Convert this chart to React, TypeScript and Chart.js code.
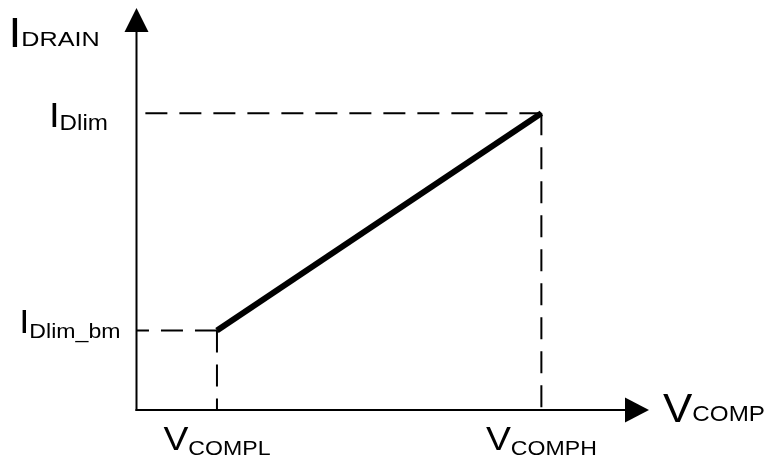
import React, { useEffect, useRef } from "react";
import { Chart, registerables } from "chart.js";

Chart.register(...registerables);

// ---- data ----
const X_RANGE = [0, 100];
const Y_RANGE = [0, 100];
const X_MARKS = [15.7, 79.0]; // V_COMPL, V_COMPH
const Y_MARKS = [19.8, 73.8]; // I_Dlim_bm, I_Dlim
const X_TICK_MAIN = ["V", "V"];
const X_TICK_SUB = ["COMPL", "COMPH"];
const Y_TICK_MAIN = ["I", "I"];
const Y_TICK_SUB = ["Dlim_bm", "Dlim"];
const X_TITLE = ["V", "COMP"];
const Y_TITLE = ["I", "DRAIN"];

const FONT = '"Liberation Sans", Arial, sans-serif';
const SX = 1.1;

function textW(ctx: CanvasRenderingContext2D, s: string, size: number, sx: number) {
  ctx.font = `${size}px ${FONT}`;
  return ctx.measureText(s).width * sx;
}
function drawT(ctx: CanvasRenderingContext2D, s: string, size: number, x: number, y: number, sx: number) {
  ctx.save();
  ctx.font = `${size}px ${FONT}`;
  ctx.textAlign = "left";
  ctx.textBaseline = "alphabetic";
  ctx.fillStyle = "#000";
  ctx.translate(x, y);
  ctx.scale(sx, 1);
  ctx.fillText(s, 0, 0);
  ctx.restore();
}
function drawPair(
  ctx: CanvasRenderingContext2D,
  main: string, mSize: number, sub: string, sSize: number,
  x: number, yMain: number, ySub: number, align: "left" | "right" | "center",
  subSx: number = SX
) {
  const w1 = textW(ctx, main, mSize, SX);
  const w2 = textW(ctx, sub, sSize, subSx);
  const tot = w1 + w2;
  const x0 = align === "left" ? x : align === "right" ? x - tot : x - tot / 2;
  drawT(ctx, main, mSize, x0, yMain, SX);
  drawT(ctx, sub, sSize, x0 + w1, ySub, subSx);
}

const diagramPlugin = {
  id: "diagram",
  afterDatasetsDraw(chart: any) {
    const ctx: CanvasRenderingContext2D = chart.ctx;
    const { left, right, top, bottom } = chart.chartArea;
    const xs = chart.scales.x;
    const ys = chart.scales.y;
    ctx.save();
    ctx.strokeStyle = "#000";
    ctx.fillStyle = "#000";
    ctx.lineWidth = 2;
    ctx.setLineDash([]);
    // y axis
    const ah = 24;
    ctx.beginPath();
    ctx.moveTo(left, bottom + 1);
    ctx.lineTo(left, top + ah);
    ctx.stroke();
    ctx.beginPath();
    ctx.moveTo(left, top);
    ctx.lineTo(left - 12, top + ah);
    ctx.lineTo(left + 12, top + ah);
    ctx.closePath();
    ctx.fill();
    // x axis
    ctx.beginPath();
    ctx.moveTo(left - 1, bottom);
    ctx.lineTo(right - ah, bottom);
    ctx.stroke();
    ctx.beginPath();
    ctx.moveTo(right, bottom);
    ctx.lineTo(right - ah, bottom - 12.5);
    ctx.lineTo(right - ah, bottom + 12.5);
    ctx.closePath();
    ctx.fill();

    // axis titles
    drawPair(ctx, Y_TITLE[0], 42, Y_TITLE[1], 21, left - 128, top + 38.5, top + 38, "left", 1.2);
    drawPair(ctx, X_TITLE[0], 40, X_TITLE[1], 22, right + 14, bottom + 12, bottom + 11, "left");

    // y tick labels
    const yCfg = [
      { dx: -16, mb: 2.3, sb: 7.3, ms: 33, ss: 21 },
      { dx: -28.5, mb: 13.4, sb: 17, ms: 35, ss: 22 },
    ];
    Y_MARKS.forEach((v, i) => {
      const yp = ys.getPixelForValue(v);
      const c = yCfg[i];
      drawPair(ctx, Y_TICK_MAIN[i], c.ms, Y_TICK_SUB[i], c.ss, left + c.dx, yp + c.mb, yp + c.sb, "right");
    });
    // x tick labels
    X_MARKS.forEach((v, i) => {
      const xp = xs.getPixelForValue(v);
      drawPair(ctx, X_TICK_MAIN[i], 34, X_TICK_SUB[i], 21, xp, bottom + 40, bottom + 45, "center");
    });
    ctx.restore();
  },
};

export default function App() {
  const ref = useRef<HTMLCanvasElement | null>(null);
  useEffect(() => {
    document.body.style.margin = "0";
    const canvas = ref.current;
    if (!canvas) return;
    const guide = (data: { x: number; y: number }[]) => ({
      data,
      borderColor: "#000",
      borderWidth: 2,
      borderDash: [22, 12],
      pointRadius: 0,
      fill: false,
      tension: 0,
      clip: false as any,
    });
    const datasets: any[] = [
      {
        data: [
          { x: X_MARKS[0], y: Y_MARKS[0] },
          { x: X_MARKS[1], y: Y_MARKS[1] },
        ],
        borderColor: "#000",
        borderWidth: 6,
        borderCapStyle: "butt",
        pointRadius: 0,
        fill: false,
        tension: 0,
        clip: false,
      },
    ];
    X_MARKS.forEach((xv, i) => {
      const yv = Y_MARKS[i];
      datasets.push(guide([{ x: xv, y: yv }, { x: X_RANGE[0], y: yv }]));
      datasets.push(guide([{ x: xv, y: yv }, { x: xv, y: Y_RANGE[0] }]));
    });
    const chart = new Chart(canvas, {
      type: "line",
      data: { datasets },
      options: {
        animation: false,
        responsive: false,
        devicePixelRatio: 1,
        events: [],
        layout: { padding: { left: 136.5, right: 124, top: 8, bottom: 57 } },
        plugins: { legend: { display: false }, tooltip: { enabled: false } },
        scales: {
          x: { type: "linear", min: X_RANGE[0], max: X_RANGE[1], display: false },
          y: { type: "linear", min: Y_RANGE[0], max: Y_RANGE[1], display: false },
        },
      },
      plugins: [diagramPlugin],
    });
    return () => chart.destroy();
  }, []);
  return (
    <div style={{ width: 773, height: 467, background: "#fff" }}>
      <canvas ref={ref} width={773} height={467} style={{ display: "block" }} />
    </div>
  );
}
